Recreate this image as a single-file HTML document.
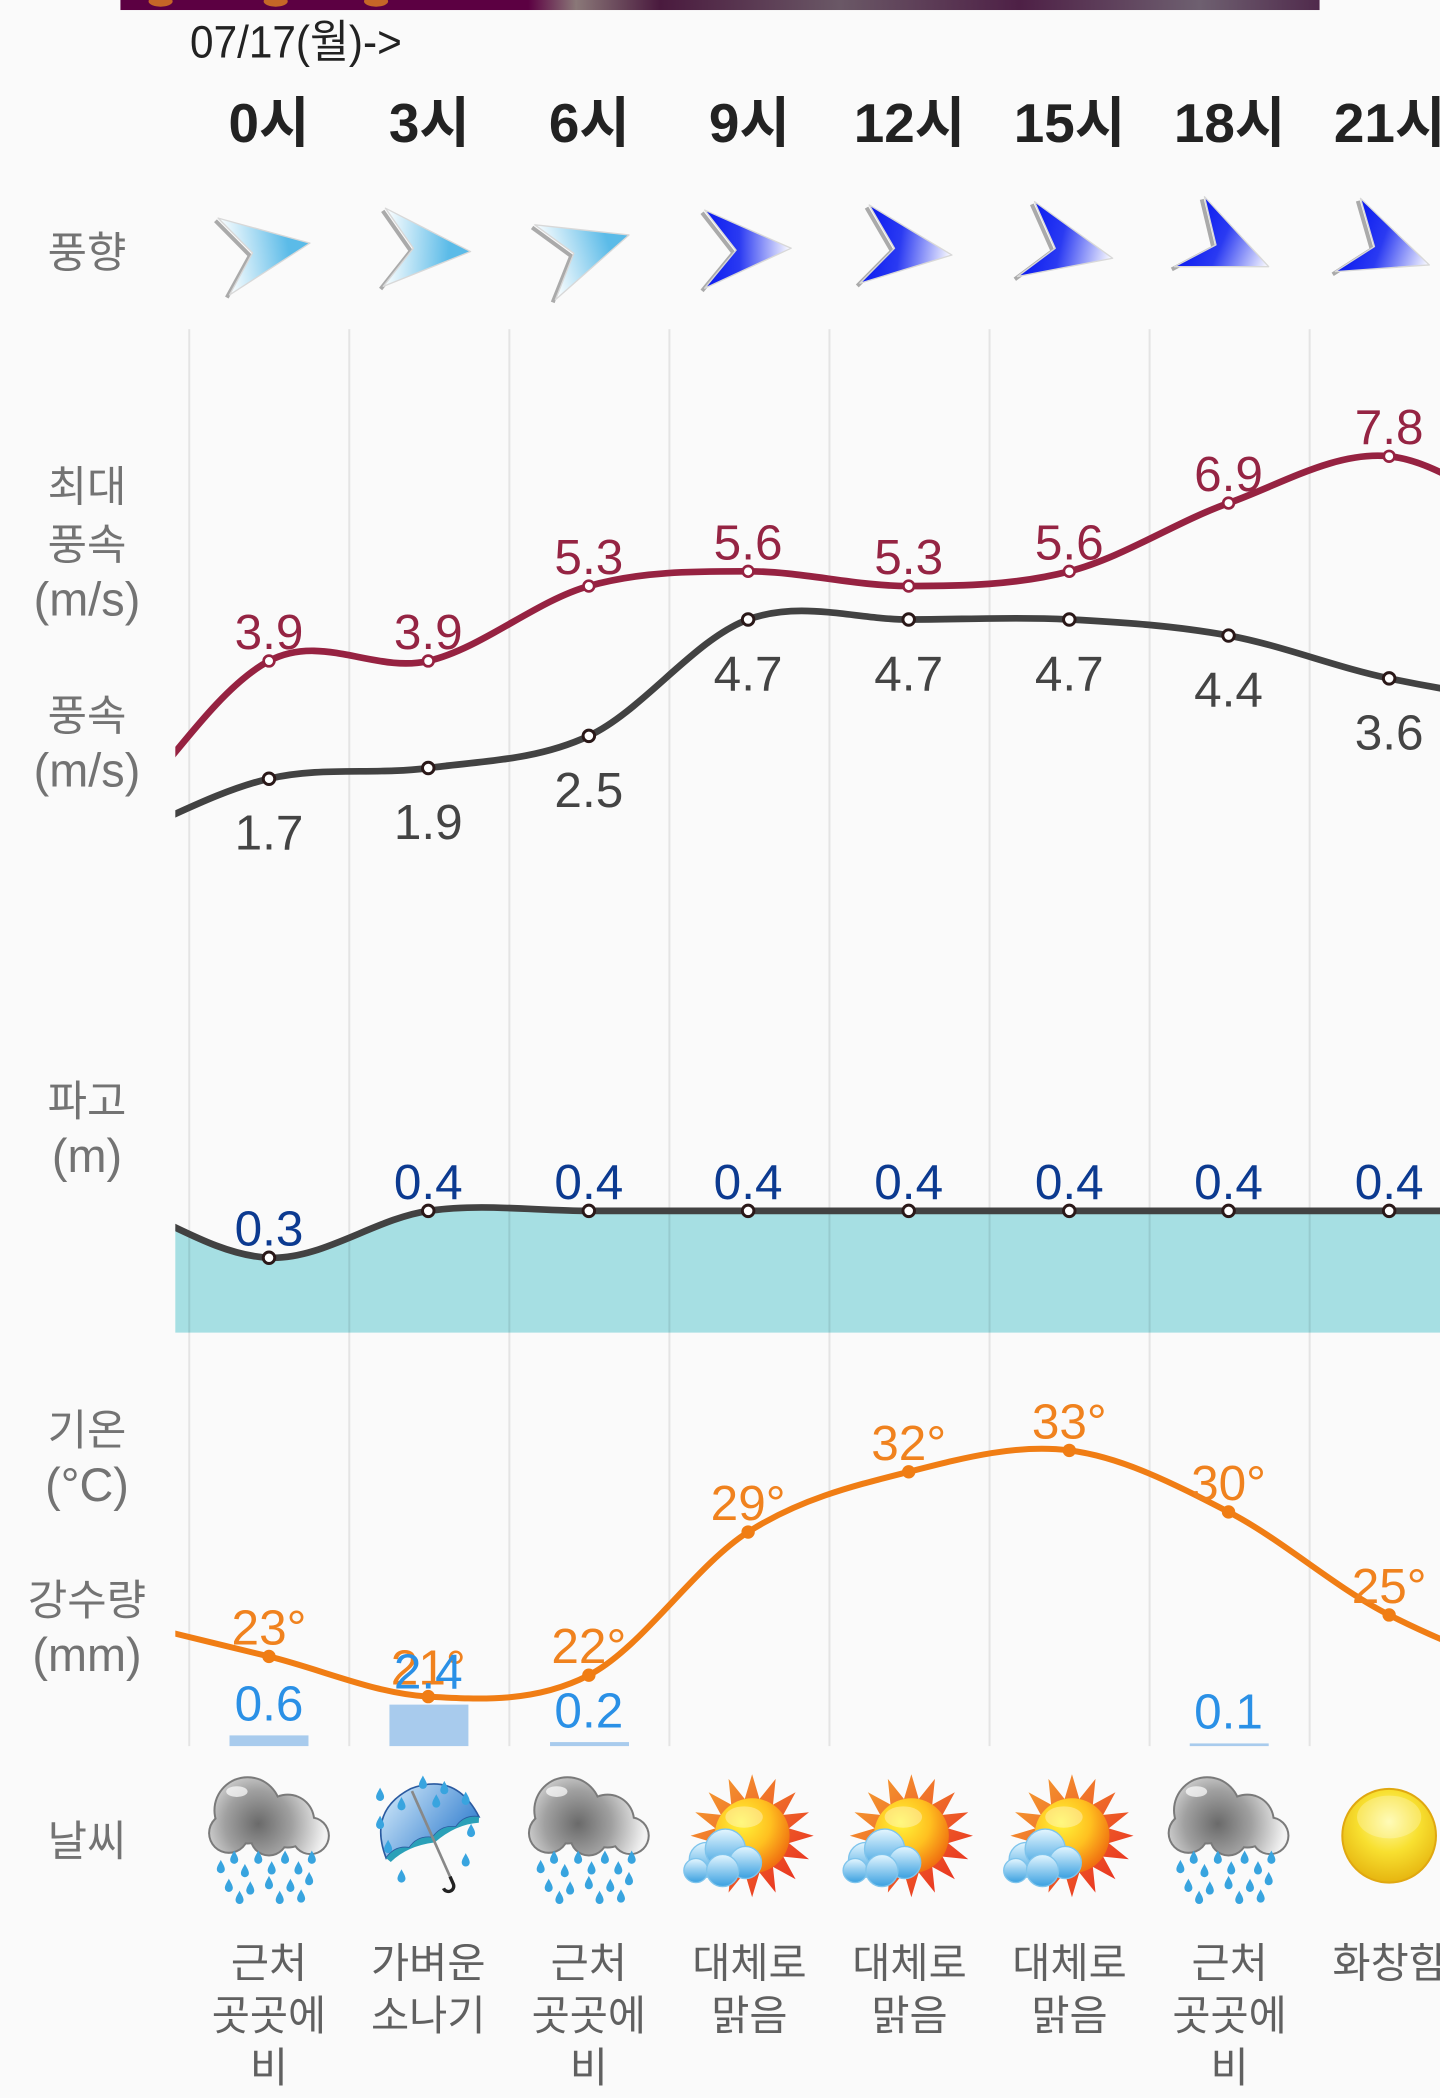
<!DOCTYPE html>
<html><head><meta charset="utf-8"><style>
html,body{margin:0;padding:0;background:#fafafa;}
svg{display:block;}
text{font-family:"Liberation Sans","Noto Sans CJK KR",sans-serif;}
</style></head><body>
<svg width="1440" height="2098" viewBox="0 0 1076 1568" preserveAspectRatio="none" xmlns="http://www.w3.org/2000/svg">
<defs>
<clipPath id="cl"><rect x="131" y="230" width="945" height="1100"/></clipPath>
<linearGradient id="ban" x1="0" y1="0" x2="1" y2="0">
<stop offset="0" stop-color="#5c0042"/><stop offset="0.34" stop-color="#5c0042"/><stop offset="0.38" stop-color="#8a7878"/><stop offset="0.45" stop-color="#4a1a3e"/><stop offset="0.6" stop-color="#6a5866"/><stop offset="0.75" stop-color="#4e2046"/><stop offset="0.9" stop-color="#6e6070"/><stop offset="1" stop-color="#502a4c"/>
</linearGradient>
<radialGradient id="cg" cx="-8" cy="-10" r="50" gradientUnits="userSpaceOnUse">
<stop offset="0" stop-color="#6a6a6a"/><stop offset="0.5" stop-color="#a0a0a0"/><stop offset="1" stop-color="#f2f2f2"/>
</radialGradient>
<linearGradient id="rays" x1="-40" y1="-40" x2="40" y2="40" gradientUnits="userSpaceOnUse">
<stop offset="0" stop-color="#f5a030"/><stop offset="1" stop-color="#e82a20"/>
</linearGradient>
<radialGradient id="sunb" cx="-8" cy="-10" r="40" gradientUnits="userSpaceOnUse">
<stop offset="0" stop-color="#fff53a"/><stop offset="0.55" stop-color="#ffc020"/><stop offset="1" stop-color="#f07010"/>
</radialGradient>
<linearGradient id="bcl" x1="0" y1="0" x2="0" y2="1">
<stop offset="0" stop-color="#e4f6ff"/><stop offset="1" stop-color="#3aa0e0"/>
</linearGradient>
<radialGradient id="sun2" cx="0.5" cy="0.35" r="0.65">
<stop offset="0" stop-color="#fffaa0"/><stop offset="0.5" stop-color="#f8e030"/><stop offset="1" stop-color="#e6b510"/>
</radialGradient>
<linearGradient id="umb" x1="0" y1="0" x2="1" y2="1">
<stop offset="0" stop-color="#d6ecfb"/><stop offset="1" stop-color="#3e86d2"/>
</linearGradient>
<path id="drop" d="M0,-5 C1.5,-2 3,0 3,2 A3,3 0 0 1 -3,2 C-3,0 -1.5,-2 0,-5Z" fill="#38a4df"/>
<g id="rc">
<g fill="#7a7a7a">
<circle cx="-16" cy="-20" r="25.5"/><circle cx="14" cy="-12" r="20.5"/><circle cx="31" cy="-1" r="14.5"/><circle cx="-30" cy="-3" r="15.5"/><circle cx="0" cy="0" r="14.5"/>
</g>
<g fill="url(#cg)">
<circle cx="-16" cy="-20" r="24"/><circle cx="14" cy="-12" r="19"/><circle cx="31" cy="-1" r="13"/><circle cx="-30" cy="-3" r="14"/><circle cx="0" cy="0" r="13"/>
</g>
<ellipse cx="-24" cy="-34" rx="8" ry="4" fill="#fff" opacity="0.7"/>
<g>
<use href="#drop" x="-36" y="22"/><use href="#drop" x="-26" y="15"/><use href="#drop" x="-18" y="25"/><use href="#drop" x="-8" y="15"/><use href="#drop" x="2" y="23"/><use href="#drop" x="12" y="15"/><use href="#drop" x="22" y="23"/><use href="#drop" x="32" y="15"/><use href="#drop" x="-30" y="36"/><use href="#drop" x="-14" y="38"/><use href="#drop" x="0" y="34"/><use href="#drop" x="16" y="36"/><use href="#drop" x="30" y="31"/><use href="#drop" x="-22" y="45"/><use href="#drop" x="8" y="45"/><use href="#drop" x="24" y="44"/>
</g>
</g>
<g id="sc">
<polygon fill="url(#rays)" points="46,0 27.5,5.5 42.5,17.6 23.3,15.6 32.5,32.5 15.6,23.3 17.6,42.5 5.5,27.5 0,46 -5.5,27.5 -17.6,42.5 -15.6,23.3 -32.5,32.5 -23.3,15.6 -42.5,17.6 -27.5,5.5 -46,0 -27.5,-5.5 -42.5,-17.6 -23.3,-15.6 -32.5,-32.5 -15.6,-23.3 -17.6,-42.5 -5.5,-27.5 0,-46 5.5,-27.5 17.6,-42.5 15.6,-23.3 32.5,-32.5 23.3,-15.6 42.5,-17.6 27.5,-5.5"/>
<circle cx="0" cy="0" r="28" fill="url(#sunb)"/>
<ellipse cx="-6" cy="-14" rx="14" ry="8" fill="#fff" opacity="0.35"/>
<g fill="url(#bcl)" stroke="#7ec4ec" stroke-width="1">
<circle cx="-34" cy="18" r="13"/><circle cx="-20" cy="10" r="15"/><circle cx="-5" cy="20" r="12"/><circle cx="-42" cy="26" r="9"/><circle cx="-22" cy="26" r="12"/>
</g>
</g>
</defs>

<rect x="0" y="0" width="1076" height="1568" fill="#fafafa"/>
<!-- banner -->
<rect x="90" y="0" width="896" height="7.5" fill="url(#ban)"/>
<ellipse cx="120" cy="1" rx="9" ry="4" fill="#e08020" opacity="0.8"/>
<ellipse cx="206" cy="1" rx="9" ry="4" fill="#e08020" opacity="0.8"/>
<ellipse cx="281" cy="1" rx="9" ry="4" fill="#e08020" opacity="0.8"/>

<text transform="translate(142,43) scale(0.93,1)" x="0" y="0" font-size="34" fill="#222">07/17(월)-&gt;</text>

<g font-size="41" font-weight="bold" fill="#222" text-anchor="middle">
<text x="201" y="106">0시</text><text x="320.8" y="106">3시</text><text x="440.4" y="106">6시</text><text x="560" y="106">9시</text><text x="679.6" y="106">12시</text><text x="799.2" y="106">15시</text><text x="918.8" y="106">18시</text><text x="1038.4" y="106">21시</text>
</g>

<!-- left labels -->
<g font-size="32" fill="#737373" text-anchor="middle">
<text x="65" y="200">풍향</text>
<text x="65" y="375">최대</text>
<text x="65" y="418">풍속</text>
<text x="65" y="460" font-size="35">(m/s)</text>
<text x="65" y="546">풍속</text>
<text x="65" y="588" font-size="35">(m/s)</text>
<text x="65" y="834">파고</text>
<text x="65" y="876" font-size="35">(m)</text>
<text x="65" y="1080">기온</text>
<text x="65" y="1122" font-size="35">(°C)</text>
<text x="65" y="1207">강수량</text>
<text x="65" y="1249" font-size="35">(mm)</text>
<text x="65" y="1387">날씨</text>
</g>

<!-- wind arrows -->
<defs>
<linearGradient id="a1" gradientUnits="userSpaceOnUse" x1="167" y1="192" x2="231.6" y2="181.7"><stop offset="0" stop-color="#fff"/><stop offset="0.75" stop-color="#5bbbe8"/></linearGradient>
<linearGradient id="a2" gradientUnits="userSpaceOnUse" x1="287" y1="185" x2="351.6" y2="188"><stop offset="0" stop-color="#fff"/><stop offset="0.75" stop-color="#5bbbe8"/></linearGradient>
<linearGradient id="a3" gradientUnits="userSpaceOnUse" x1="407" y1="196" x2="470" y2="175.6"><stop offset="0" stop-color="#fff"/><stop offset="0.75" stop-color="#5bbbe8"/></linearGradient>
<linearGradient id="a4" gradientUnits="userSpaceOnUse" x1="526.6" y1="186" x2="591.2" y2="185.5"><stop offset="0" stop-color="#0a1af0"/><stop offset="0.4" stop-color="#2a3af2"/><stop offset="1" stop-color="#fff"/></linearGradient>
<linearGradient id="a5" gradientUnits="userSpaceOnUse" x1="646" y1="182" x2="711.3" y2="190.6"><stop offset="0" stop-color="#0a1af0"/><stop offset="0.4" stop-color="#2a3af2"/><stop offset="1" stop-color="#fff"/></linearGradient>
<linearGradient id="a6" gradientUnits="userSpaceOnUse" x1="766" y1="179" x2="831.4" y2="193"><stop offset="0" stop-color="#0a1af0"/><stop offset="0.4" stop-color="#2a3af2"/><stop offset="1" stop-color="#fff"/></linearGradient>
<linearGradient id="a7" gradientUnits="userSpaceOnUse" x1="888" y1="173" x2="948" y2="199.3"><stop offset="0" stop-color="#0a1af0"/><stop offset="0.4" stop-color="#2a3af2"/><stop offset="1" stop-color="#fff"/></linearGradient>
<linearGradient id="a8" gradientUnits="userSpaceOnUse" x1="1007" y1="176" x2="1068" y2="198"><stop offset="0" stop-color="#0a1af0"/><stop offset="0.4" stop-color="#2a3af2"/><stop offset="1" stop-color="#fff"/></linearGradient>
</defs>
<g stroke-linejoin="round">
<polyline points="161,165 186.7,191 169.5,222.4" fill="none" stroke="#aaa" stroke-width="3"/>
<polygon points="231.6,181.7 163,163 188.7,189 171.5,220.4" fill="url(#a1)" stroke="#d8d8d8" stroke-width="1"/>
<polyline points="286,157.6 306.9,187.5 284.4,216" fill="none" stroke="#aaa" stroke-width="3"/>
<polygon points="351.6,188 288,155.6 308.9,185.5 286.4,214" fill="url(#a2)" stroke="#d8d8d8" stroke-width="1"/>
<polyline points="397.6,170 426.8,191.3 413,226" fill="none" stroke="#aaa" stroke-width="3"/>
<polygon points="470,175.6 399.6,168 428.8,189.3 415,224" fill="url(#a3)" stroke="#d8d8d8" stroke-width="1"/>
<polyline points="524.6,159 548,189 524.6,217.4" fill="none" stroke="#aaa" stroke-width="3"/>
<polygon points="591.2,185.5 526.6,157 550,187 526.6,215.4" fill="url(#a4)" stroke="#d8d8d8" stroke-width="1"/>
<polyline points="647.5,155.2 666.4,187.6 640.6,213.7" fill="none" stroke="#aaa" stroke-width="3"/>
<polygon points="711.3,190.6 649.5,153.2 668.4,185.6 642.6,211.7" fill="url(#a5)" stroke="#d8d8d8" stroke-width="1"/>
<polyline points="771,152.7 786.5,187.6 758.3,208.7" fill="none" stroke="#aaa" stroke-width="3"/>
<polygon points="831.4,193 773,150.7 788.5,185.6 760.3,206.7" fill="url(#a6)" stroke="#d8d8d8" stroke-width="1"/>
<polyline points="898,149 906.6,185 875.6,201.3" fill="none" stroke="#aaa" stroke-width="3"/>
<polygon points="948,199.3 900,147 908.6,183 877.6,199.3" fill="url(#a7)" stroke="#d8d8d8" stroke-width="1"/>
<polyline points="1014.6,150.2 1025,186.3 995.8,205" fill="none" stroke="#aaa" stroke-width="3"/>
<polygon points="1068,198 1016.6,148.2 1027,184.3 997.8,203" fill="url(#a8)" stroke="#d8d8d8" stroke-width="1"/>
</g>

<!-- wave fill -->
<g clip-path="url(#cl)">
<path d="M82,895 C122,910 161.3,938.3 201,940 C240.7,941.7 280.2,910.8 320,905 C359.8,899.2 400.2,905 440,905 L1157,905 L1157,996 L82,996 Z" fill="#a6dfe3"/>
</g>

<!-- grid -->
<g stroke="#000" stroke-opacity="0.085" stroke-width="1.5">
<line x1="141.4" y1="246" x2="141.4" y2="1305"/><line x1="261" y1="246" x2="261" y2="1305"/><line x1="380.6" y1="246" x2="380.6" y2="1305"/><line x1="500.2" y1="246" x2="500.2" y2="1305"/><line x1="619.8" y1="246" x2="619.8" y2="1305"/><line x1="739.4" y1="246" x2="739.4" y2="1305"/><line x1="859" y1="246" x2="859" y2="1305"/><line x1="978.6" y1="246" x2="978.6" y2="1305"/>
</g>

<!-- precip bars -->
<g fill="#a8cbed">
<rect x="171.5" y="1297" width="59" height="8"/>
<rect x="291" y="1274" width="59" height="31"/>
<rect x="411" y="1302" width="59" height="3"/>
<rect x="889" y="1303" width="59" height="2"/>
</g>

<g clip-path="url(#cl)" fill="none" stroke-linecap="round">
<path d="M82,620 C122,578 161.3,515 201,494 C240.7,473 280.2,503.3 320,494 C359.8,484.7 400.2,449.2 440,438 C479.8,426.8 519.2,427 559,427 C598.8,427 639,438 679,438 C719,438 759.2,437.3 799,427 C838.8,416.7 878.2,390.3 918,376 C957.8,361.7 998.2,337 1038,341 C1077.8,345 1117,380 1157,400" stroke="#962241" stroke-width="5"/>
<path d="M82,630 C122,614 161.3,591.3 201,582 C240.7,572.7 280.2,579.3 320,574 C359.8,568.7 400.2,568.5 440,550 C479.8,531.5 519.2,477.5 559,463 C598.8,448.5 639,463 679,463 C719,463 759.2,461 799,463 C838.8,465 878.2,467.7 918,475 C957.8,482.3 998.2,498.7 1038,507 C1077.8,515.3 1117,522 1157,525" stroke="#424242" stroke-width="5"/>
<path d="M82,895 C122,910 161.3,938.3 201,940 C240.7,941.7 280.2,910.8 320,905 C359.8,899.2 400.2,905 440,905 L1157,905" stroke="#424242" stroke-width="5"/>
<path d="M82,1209 C122,1219 161.3,1228.2 201,1238 C240.7,1247.8 280.2,1265.7 320,1268 C359.8,1270.3 400.2,1272.5 440,1252 C479.8,1231.5 519.2,1170.3 559,1145 C598.8,1119.7 639,1110.2 679,1100 C719,1089.8 759.2,1079 799,1084 C838.8,1089 878.2,1109.5 918,1130 C957.8,1150.5 998.2,1187 1038,1207 C1077.8,1227 1117,1243 1157,1250" stroke="#f07d14" stroke-width="4.5"/>
</g>

<!-- markers -->
<g fill="#fff" stroke="#962241" stroke-width="2">
<circle cx="201" cy="494" r="4"/><circle cx="320" cy="494" r="4"/><circle cx="440" cy="438" r="4"/><circle cx="559" cy="427" r="4"/><circle cx="679" cy="438" r="4"/><circle cx="799" cy="427" r="4"/><circle cx="918" cy="376" r="4"/><circle cx="1038" cy="341" r="4"/>
</g>
<g fill="#fff" stroke="#2a1818" stroke-width="2.2">
<circle cx="201" cy="582" r="4.3"/><circle cx="320" cy="574" r="4.3"/><circle cx="440" cy="550" r="4.3"/><circle cx="559" cy="463" r="4.3"/><circle cx="679" cy="463" r="4.3"/><circle cx="799" cy="463" r="4.3"/><circle cx="918" cy="475" r="4.3"/><circle cx="1038" cy="507" r="4.3"/>
<circle cx="201" cy="940" r="4.3"/><circle cx="320" cy="905" r="4.3"/><circle cx="440" cy="905" r="4.3"/><circle cx="559" cy="905" r="4.3"/><circle cx="679" cy="905" r="4.3"/><circle cx="799" cy="905" r="4.3"/><circle cx="918" cy="905" r="4.3"/><circle cx="1038" cy="905" r="4.3"/>
</g>
<g fill="#f07d14">
<circle cx="201" cy="1238" r="5"/><circle cx="320" cy="1268" r="5"/><circle cx="440" cy="1252" r="5"/><circle cx="559" cy="1145" r="5"/><circle cx="679" cy="1100" r="5"/><circle cx="799" cy="1084" r="5"/><circle cx="918" cy="1130" r="5"/><circle cx="1038" cy="1207" r="5"/>
</g>

<!-- value labels -->
<g font-size="37" text-anchor="middle" fill="#952443">
<text x="201" y="485">3.9</text><text x="320" y="485">3.9</text><text x="440" y="429">5.3</text><text x="559" y="418">5.6</text><text x="679" y="429">5.3</text><text x="799" y="418">5.6</text><text x="918" y="367">6.9</text><text x="1038" y="332">7.8</text>
</g>
<g font-size="37" text-anchor="middle" fill="#444">
<text x="201" y="635">1.7</text><text x="320" y="627">1.9</text><text x="440" y="603">2.5</text><text x="559" y="516">4.7</text><text x="679" y="516">4.7</text><text x="799" y="516">4.7</text><text x="918" y="528">4.4</text><text x="1038" y="560">3.6</text>
</g>
<g font-size="37" text-anchor="middle" fill="#0c3a90">
<text x="201" y="931">0.3</text><text x="320" y="896">0.4</text><text x="440" y="896">0.4</text><text x="559" y="896">0.4</text><text x="679" y="896">0.4</text><text x="799" y="896">0.4</text><text x="918" y="896">0.4</text><text x="1038" y="896">0.4</text>
</g>
<g font-size="37" text-anchor="middle" fill="#f0821e">
<text x="201" y="1229">23°</text><text x="320" y="1259">21°</text><text x="440" y="1243">22°</text><text x="559" y="1136">29°</text><text x="679" y="1091">32°</text><text x="799" y="1075">33°</text><text x="918" y="1121">30°</text><text x="1038" y="1198">25°</text>
</g>
<g font-size="37" text-anchor="middle" fill="#2a90e6">
<text x="201" y="1286">0.6</text><text x="320" y="1262">2.4</text><text x="440" y="1291">0.2</text><text x="918" y="1292">0.1</text>
</g>

<!-- weather icons -->
<use href="#rc" x="201" y="1373"/>
<use href="#rc" x="440" y="1373"/>
<use href="#rc" x="918" y="1373"/>
<use href="#sc" x="562" y="1372"/>
<use href="#sc" x="681" y="1372"/>
<use href="#sc" x="801" y="1372"/>
<!-- umbrella -->
<g transform="translate(320,1366) rotate(-24)">
<path d="M-38,8 Q-36,-30 0,-32 Q36,-30 38,8 Q28,2 19,8 Q10,2 0,8 Q-10,2 -19,8 Q-28,2 -38,8Z" fill="url(#umb)" stroke="#2a5aa0" stroke-width="1.2"/>
<path d="M-38,8 Q-28,2 -19,8 Q-10,2 0,8 Q10,2 19,8 Q28,2 38,8 L36,12 Q20,6 0,12 Q-20,6 -36,12Z" fill="#2aa0b8"/>
<line x1="0" y1="-30" x2="0" y2="40" stroke="#888" stroke-width="2"/>
<path d="M0,40 L0,46 A4,4 0 0 1 -8,46" fill="none" stroke="#222" stroke-width="2.5"/>
</g>
<g>
<use href="#drop" x="284" y="1341"/><use href="#drop" x="300" y="1348"/><use href="#drop" x="316" y="1332"/><use href="#drop" x="332" y="1336"/><use href="#drop" x="348" y="1344"/><use href="#drop" x="284" y="1362"/><use href="#drop" x="290" y="1380"/><use href="#drop" x="352" y="1368"/><use href="#drop" x="348" y="1390"/><use href="#drop" x="300" y="1402"/><use href="#drop" x="326" y="1346"/>
</g>
<!-- sun -->
<circle cx="1038" cy="1372" r="35" fill="url(#sun2)" stroke="#e0a810" stroke-width="1.5"/>
<ellipse cx="1038" cy="1358" rx="24" ry="16" fill="#fff" opacity="0.25"/>

<!-- weather text -->
<g font-size="31" fill="#606060" text-anchor="middle">
<text x="201" y="1478">근처</text><text x="201" y="1517">곳곳에</text><text x="201" y="1556">비</text>
<text x="320" y="1478">가벼운</text><text x="320" y="1517">소나기</text>
<text x="440" y="1478">근처</text><text x="440" y="1517">곳곳에</text><text x="440" y="1556">비</text>
<text x="560" y="1478">대체로</text><text x="560" y="1517">맑음</text>
<text x="679.6" y="1478">대체로</text><text x="679.6" y="1517">맑음</text>
<text x="799.2" y="1478">대체로</text><text x="799.2" y="1517">맑음</text>
<text x="918.8" y="1478">근처</text><text x="918.8" y="1517">곳곳에</text><text x="918.8" y="1556">비</text>
<text x="1038.4" y="1478">화창함</text>
</g>
</svg>
</body></html>
